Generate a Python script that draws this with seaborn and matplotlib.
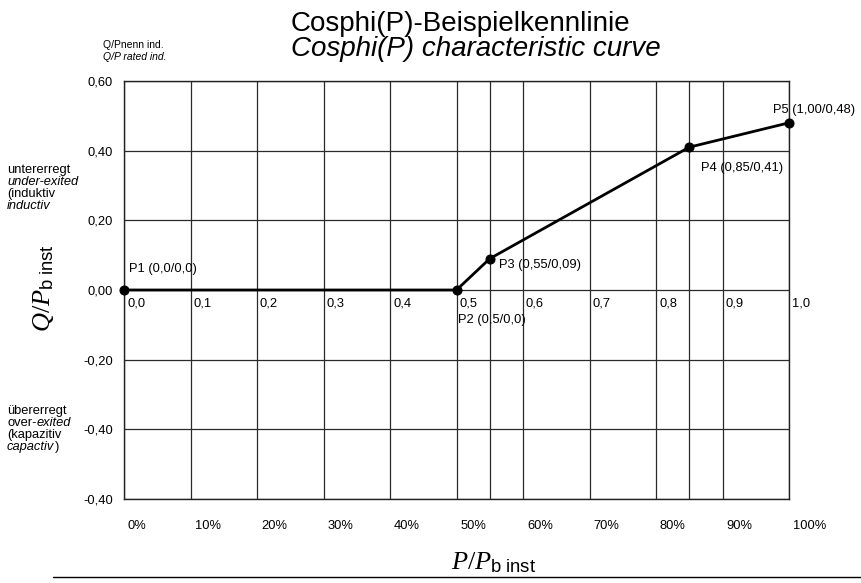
import matplotlib
matplotlib.use("Agg")
import matplotlib.pyplot as plt
from matplotlib.lines import Line2D
from matplotlib.transforms import ScaledTranslation
import seaborn as sns
import pandas as pd

# Characteristic points of the cos phi(P) curve
point_names = ["P1", "P2", "P3", "P4", "P5"]
p_values = [0.0, 0.5, 0.55, 0.85, 1.00]
q_values = [0.0, 0.0, 0.09, 0.41, 0.48]
point_labels = ["P1 (0,0/0,0)", "P2 (0,5/0,0)", "P3 (0,55/0,09)",
                "P4 (0,85/0,41)", "P5 (1,00/0,48)"]

# Axis grid and labels
x_grid = [0.0, 0.1, 0.2, 0.3, 0.4, 0.5, 0.6, 0.7, 0.8, 0.9, 1.0]
x_extra_grid = [0.55, 0.85]
x_inner_labels = ["0,0", "0,1", "0,2", "0,3", "0,4", "0,5",
                  "0,6", "0,7", "0,8", "0,9", "1,0"]
pct_labels = ["0%", "10%", "20%", "30%", "40%", "50%",
              "60%", "70%", "80%", "90%", "100%"]
y_ticks = [-0.6, -0.4, -0.2, 0.0, 0.2, 0.4, 0.6]
y_tick_labels = ["-0,40", "-0,40", "-0,20", "0,00", "0,20", "0,40", "0,60"]

# Label offsets (pixels) relative to each point
label_offsets = [(5, 21), (1, -30), (9, -6), (12, -21), (-16, 13)]

sns.set_style("white")
plt.rcParams["font.family"] = ["Liberation Sans", "DejaVu Sans"]
plt.rcParams["text.color"] = "black"
plt.rcParams["mathtext.fontset"] = "custom"
plt.rcParams["mathtext.rm"] = "Liberation Serif"
plt.rcParams["mathtext.it"] = "Liberation Serif:italic"
plt.rcParams["mathtext.sf"] = "Liberation Sans"

W, H = 861, 583
fig = plt.figure(figsize=(W / 100, H / 100), dpi=100)
ax = fig.add_axes([124 / W, 1 - 499 / H, 665 / W, 418 / H])

df = pd.DataFrame({"P": p_values, "Q": q_values, "name": point_names})

grid_kw = dict(color="#2a2a2a", lw=0.9, zorder=1)
ax.set_xlim(0, 1)
ax.set_ylim(-0.6, 0.6)
ax.set_xticks(x_grid)
ax.set_xticks(x_extra_grid, minor=True)
ax.set_yticks(y_ticks)
ax.set_yticklabels(y_tick_labels)
ax.set_xticklabels(pct_labels, ha="left")
ax.grid(True, which="both", axis="x", **grid_kw)
ax.grid(True, which="major", axis="y", **grid_kw)
ax.set_axisbelow(True)
ax.tick_params(axis="both", which="both", length=0, labelsize=9.3,
               colors="black")
ax.tick_params(axis="x", pad=15)
ax.tick_params(axis="y", pad=8)
for lab in ax.get_xticklabels():
    lab.set_transform(lab.get_transform()
                      + ScaledTranslation(4 / 100, 0, fig.dpi_scale_trans))

for s in ax.spines.values():
    s.set_color("#222222")
    s.set_linewidth(1.0)

sns.lineplot(data=df, x="P", y="Q", ax=ax, color="black", lw=2.0,
             marker="o", markersize=6.5, markeredgecolor="black",
             clip_on=False, zorder=5)
ax.set_xlabel("")
ax.set_ylabel("")

# Inner scale labels along the zero line
for xv, lab in zip(x_grid, x_inner_labels):
    ax.annotate(lab, (xv, 0.0), xytext=(3, -14), textcoords="offset pixels",
                ha="left", va="center", fontsize=9.3)

# Point annotations
for xv, yv, lab, (dx, dy) in zip(p_values, q_values, point_labels, label_offsets):
    ax.annotate(lab, (xv, yv), xytext=(dx, dy), textcoords="offset pixels",
                ha="left", va="center", fontsize=9.3)


def fy(py):
    return 1 - py / H


def fx(px):
    return px / W


# Titles
fig.text(fx(291), fy(31), "Cosphi(P)-Beispielkennlinie", fontsize=20,
         ha="left", va="baseline")
fig.text(fx(291), fy(56), "Cosphi(P) characteristic curve", fontsize=20,
         style="italic", ha="left", va="baseline")

# Unit note above y-axis
fig.text(fx(103), fy(45), "Q/Pnenn ind.", fontsize=7.5, ha="left", va="center")
fig.text(fx(103), fy(57), "Q/P rated ind.", fontsize=7.5, style="italic",
         ha="left", va="center")

# Excitation side notes
fs_side = 9.3
fig.text(fx(7), fy(170), "untererregt", fontsize=fs_side, va="center")
fig.text(fx(7), fy(182), "under-exited", fontsize=fs_side, style="italic",
         va="center")
fig.text(fx(7), fy(194), "(induktiv", fontsize=fs_side, va="center")
fig.text(fx(7), fy(206), "inductiv", fontsize=fs_side, style="italic",
         va="center")

fig.text(fx(7), fy(411), "übererregt", fontsize=fs_side, va="center")
t_over = fig.text(fx(7), fy(423), "over-", fontsize=fs_side, va="center")
fig.text(fx(7), fy(435), "(kapazitiv", fontsize=fs_side, va="center")
t_cap = fig.text(fx(7), fy(447), "capactiv", fontsize=fs_side, style="italic",
                 va="center")
ax.annotate("exited", xy=(1, 0.5), xycoords=t_over, xytext=(0, 0),
            textcoords="offset points", ha="left", va="center",
            fontsize=fs_side, style="italic", annotation_clip=False)
ax.annotate(")", xy=(1, 0.5), xycoords=t_cap, xytext=(0.3, 0),
            textcoords="offset points", ha="left", va="center",
            fontsize=fs_side, annotation_clip=False)

# Axis titles
fig.text(fx(494), fy(569), r"$P/P_{\mathsf{b\ inst}}$", fontsize=19,
         ha="center", va="baseline")
fig.text(fx(44), fy(288), r"$Q/P_{\mathsf{b\ inst}}$", fontsize=19,
         rotation=90, ha="center", va="center")

# Rule under the chart
fig.add_artist(Line2D([fx(53), 1.0], [fy(577), fy(577)], color="black",
                      lw=1.0, transform=fig.transFigure))

fig.savefig("out.png", dpi=100)
